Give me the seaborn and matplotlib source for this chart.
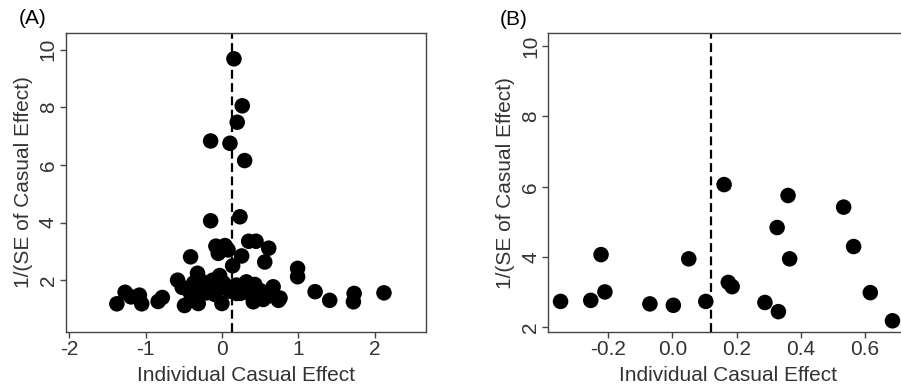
import numpy as np
import pandas as pd
import matplotlib
matplotlib.use("Agg")
import matplotlib.pyplot as plt
import seaborn as sns

# ---- Data: panel A ----
a_effect = [0.157, 0.266, 0.20, -0.148, 0.105, 0.297, -0.148, 0.236,
            0.35, 0.446, 0.612, -0.079, 0.04, 0.08, -0.048, 0.258, -0.41, 0.14, 0.56, 0.99, 0.99,
            1.219, 1.41, 1.73, 1.72, 2.12,
            -1.375, -1.267, -1.19, -1.08, -1.05, -0.835, -0.78,
            -0.58, -0.32, -0.03, -0.52, -0.28, -0.40, -0.20, -0.49, -0.31, -0.09, 0.0, 0.06,
            0.19, 0.32, 0.43, 0.24, 0.39, 0.50, 0.67, 0.41, 0.54, 0.74, 0.63, -0.37, -0.26,
            -0.44, -0.33, -0.11, 0.02, 0.15, 0.30, 0.19, 0.76, -0.12, 0.10]
a_precision = [9.68, 8.05, 7.48, 6.83, 6.75, 6.15, 4.06, 4.20,
               3.35, 3.35, 3.11, 3.18, 3.20, 3.05, 2.93, 2.84, 2.81, 2.50, 2.63, 2.41, 2.12,
               1.60, 1.30, 1.54, 1.25, 1.56,
               1.18, 1.58, 1.42, 1.48, 1.18, 1.26, 1.40,
               2.00, 2.24, 2.16, 1.75, 1.84, 1.42, 1.56, 1.12, 1.19, 1.50, 1.19, 1.72,
               1.83, 1.94, 1.85, 1.54, 1.48, 1.64, 1.77, 1.25, 1.33, 1.30, 1.46, 1.90, 1.95,
               1.66, 1.62, 1.55, 1.90, 1.77, 1.60, 1.54, 1.38, 2.00, 1.62]
a_ref = 0.135

# ---- Data: panel B ----
b_effect = [-0.348, -0.254, -0.222, -0.210, -0.070, 0.003, 0.051, 0.104, 0.161, 0.174,
            0.186, 0.288, 0.326, 0.330, 0.360, 0.365, 0.533, 0.564, 0.616, 0.685]
b_precision = [2.74, 2.77, 4.07, 3.01, 2.67, 2.63, 3.95, 2.74, 6.06, 3.28,
               3.16, 2.71, 4.84, 2.45, 5.75, 3.95, 5.42, 4.30, 2.99, 2.19]
b_ref = 0.12

y_ticks = [2, 4, 6, 8, 10]
a_xticks = [-2, -1, 0, 1, 2]
b_xticks = [-0.2, 0.0, 0.2, 0.4, 0.6]
b_xticklabels = ["-0.2", "0.0", "0.2", "0.4", "0.6"]

sns.set_theme(style="white")
plt.rcParams["font.family"] = ["Liberation Sans", "DejaVu Sans"]

fig = plt.figure(figsize=(9.01, 3.87), dpi=100)
axA = fig.add_axes([0.0733, 0.142, 0.3995, 0.773])
axB = fig.add_axes([0.6086, 0.142, 0.398, 0.772])

dfA = pd.DataFrame({"effect": a_effect, "precision": a_precision})
dfB = pd.DataFrame({"effect": b_effect, "precision": b_precision})

txt = "#333333"
frame = "#444444"
fs = 15

for ax, df, ref in [(axA, dfA, a_ref), (axB, dfB, b_ref)]:
    sns.scatterplot(data=df, x="effect", y="precision", ax=ax, color="black",
                    s=125, edgecolor="none", linewidth=0, zorder=3)
    ax.axvline(ref, color="black", linestyle=(0, (4, 2)), linewidth=1.6, zorder=2)
    ax.set_xlabel("Individual Casual Effect", fontsize=fs, color=txt, labelpad=4.5)
    ax.set_ylabel("1/(SE of Casual Effect)", fontsize=fs, color=txt, labelpad=4)
    for sp in ax.spines.values():
        sp.set_color(frame)
        sp.set_linewidth(1.0)
    ax.tick_params(axis="both", direction="out", length=4, width=1, color=frame,
                   labelsize=fs, labelcolor=txt, pad=2, bottom=True, left=True)
    ax.set_yticks(y_ticks)
    ax.set_yticklabels([str(v) for v in y_ticks], rotation=90, va="center")

axA.set_xlim(-2.04, 2.67)
axA.set_ylim(0.2, 10.58)
axA.set_xticks(a_xticks)
axA.set_xticklabels([str(v) for v in a_xticks])

axB.set_xlim(-0.386, 0.73)
axB.set_ylim(1.87, 10.36)
axB.set_xticks(b_xticks)
axB.set_xticklabels(b_xticklabels)

fig.text(0.021, 0.953, "(A)", fontsize=fs, color="black", va="center")
fig.text(0.555, 0.950, "(B)", fontsize=fs, color="black", va="center")

fig.savefig("out.png", dpi=100)
